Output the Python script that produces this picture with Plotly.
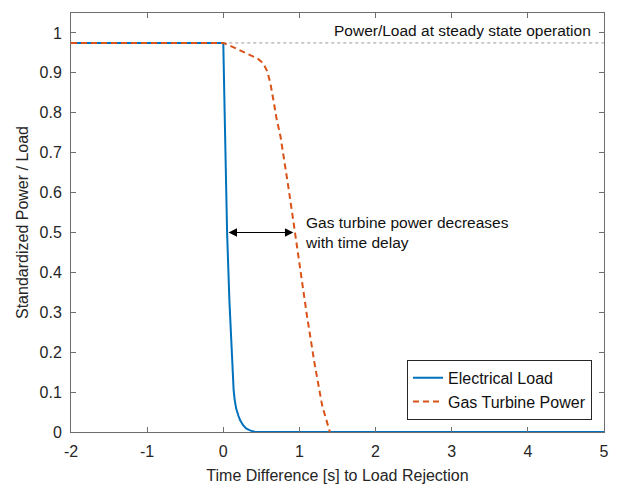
import plotly.graph_objects as go

# Electrical load (standardized)
load_t = [-2.0, 0.0, 0.02, 0.05, 0.08, 0.10, 0.12, 0.136, 0.15, 0.17, 0.20, 0.22, 0.26, 0.30, 0.35, 0.42, 5.0]
load_y = [0.975, 0.975, 0.78, 0.50, 0.33, 0.24, 0.16, 0.105, 0.08, 0.058, 0.04, 0.03, 0.017, 0.009, 0.004, 0.0, 0.0]

# Gas turbine power (standardized)
gt_t = [-2.0, 0.0, 0.1, 0.2, 0.3, 0.4, 0.45, 0.5, 0.54, 0.58, 0.62, 0.66, 0.7, 0.75, 0.8, 0.85, 0.9, 0.95, 1.0, 1.05, 1.1, 1.2, 1.3, 1.4]
gt_y = [0.975, 0.975, 0.967, 0.958, 0.949, 0.941, 0.936, 0.928, 0.918, 0.903, 0.872, 0.83, 0.785, 0.742, 0.685, 0.62, 0.555, 0.49, 0.42, 0.35, 0.29, 0.17, 0.065, 0.0]

# Steady-state reference line
steady_t = [0.0, 5.0]
steady_y = [0.975, 0.975]

# Arrow annotation (time delay at 50 %)
arrow_t = [0.05, 0.92]
arrow_y = 0.5

x_ticks = [-2, -1, 0, 1, 2, 3, 4, 5]
x_ticktext = ["-2", "-1", "0", "1", "2", "3", "4", "5"]
y_ticks = [0, 0.1, 0.2, 0.3, 0.4, 0.5, 0.6, 0.7, 0.8, 0.9, 1]
y_ticktext = ["0", "0.1", "0.2", "0.3", "0.4", "0.5", "0.6", "0.7", "0.8", "0.9", "1"]

FONT = "Liberation Sans, Arial, sans-serif"
BLUE = "#0072BD"
ORANGE = "#D95319"

fig = go.Figure()
fig.add_trace(go.Scatter(x=steady_t, y=steady_y, mode="lines",
                         line=dict(color="#9a9a9a", width=1, dash="3px,3px"),
                         showlegend=False, hoverinfo="skip"))
fig.add_trace(go.Scatter(x=load_t, y=load_y, mode="lines", name="Electrical Load",
                         line=dict(color=BLUE, width=2)))
fig.add_trace(go.Scatter(x=gt_t, y=gt_y, mode="lines", name="Gas Turbine Power",
                         line=dict(color=ORANGE, width=2, dash="6px,4px")))

fig.add_annotation(x=arrow_t[1], y=arrow_y, ax=arrow_t[0], ay=arrow_y,
                   xref="x", yref="y", axref="x", ayref="y",
                   text="", showarrow=True, arrowhead=2, startarrowhead=2,
                   arrowside="end+start", arrowsize=1.4, startarrowsize=1.4,
                   arrowwidth=1.2, arrowcolor="black")
fig.add_annotation(x=1.05, y=0.5, xref="x", yref="y", xanchor="left", yanchor="middle",
                   yshift=0,
                   text="Gas turbine power decreases<br>with time delay", showarrow=False,
                   align="left", font=dict(family=FONT, size=15.5, color="#111"))
fig.add_annotation(x=5, y=0.975, xref="x", yref="y", xanchor="right", yanchor="bottom",
                   xshift=-11, yshift=2,
                   text="Power/Load at steady state operation", showarrow=False,
                   font=dict(family=FONT, size=15.5, color="#111"))

axis_common = dict(showline=True, linecolor="#6e6e6e", linewidth=1, mirror="allticks",
                   ticks="inside", ticklen=5, tickcolor="#6e6e6e", showgrid=False,
                   zeroline=False, automargin=False,
                   tickfont=dict(family=FONT, size=16, color="#262626"))

fig.update_xaxes(range=[-2, 5], tickvals=x_ticks, ticktext=x_ticktext,
                 ticklabelstandoff=5,
                 title=dict(text="Time Difference [s] to Load Rejection",
                            font=dict(family=FONT, size=16, color="#262626"), standoff=10),
                 **axis_common)
fig.update_yaxes(range=[0, 1.05], tickvals=y_ticks, ticktext=y_ticktext,
                 ticklabelstandoff=5,
                 title=dict(text="Standardized Power / Load",
                            font=dict(family=FONT, size=16, color="#262626"), standoff=6),
                 **axis_common)

# page body has an 8px margin; figure size/margins compensate so the plot area
# lands at x 71..604, y 13..432 in the 617x486 window
fig.update_layout(
    width=609, height=478,
    margin=dict(l=63, r=13, t=5, b=54, pad=0),
    plot_bgcolor="white", paper_bgcolor="white",
    legend=dict(x=0.9775, y=0.029, xanchor="right", yanchor="bottom",
                bgcolor="white", bordercolor="#262626", borderwidth=1,
                font=dict(family=FONT, size=16, color="#111"),
                tracegroupgap=0),
    showlegend=True,
)

fig.write_html("out.html")
